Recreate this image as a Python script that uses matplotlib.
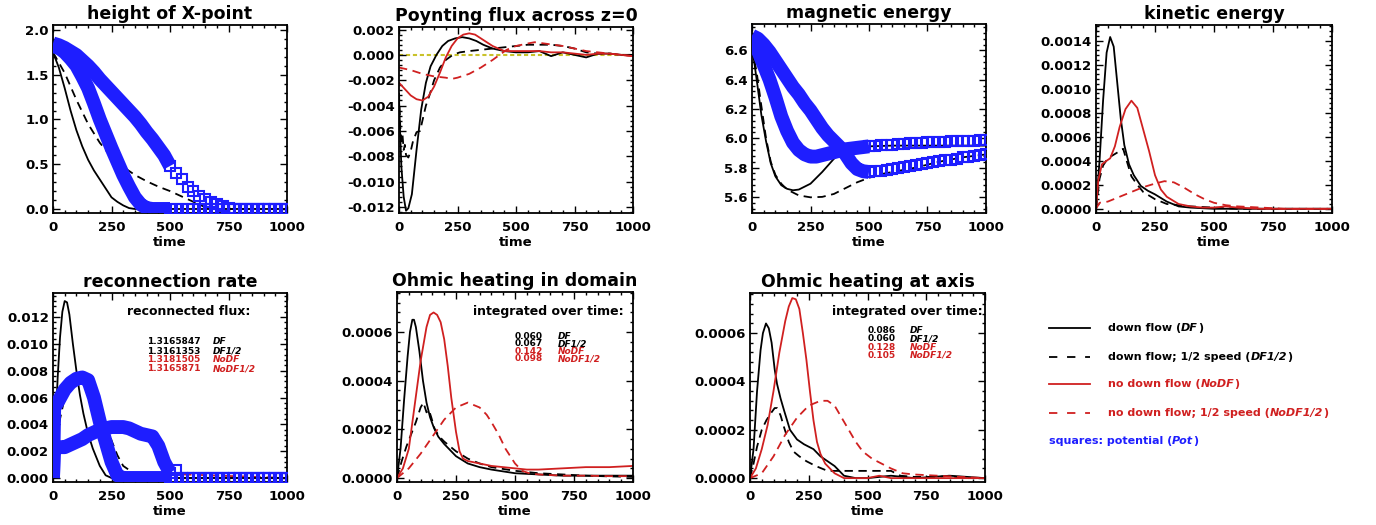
import numpy as np
import matplotlib
matplotlib.use("Agg")
import matplotlib.pyplot as plt
from matplotlib.lines import Line2D
from matplotlib.ticker import AutoMinorLocator, FormatStrFormatter
from matplotlib.offsetbox import TextArea, HPacker, AnchoredOffsetbox

plt.rcParams["font.family"] = ["DejaVu Sans"]
plt.rcParams["font.weight"] = "bold"
plt.rcParams["lines.scale_dashes"] = False

BLACK = "black"
RED = "#d02020"
BLUE = "#1e1eff"
DASH = (6, 4)

# sample times of the potential runs (squares)
T_POT = list(range(0, 1001, 25))
T_POT_RR = [0, 5] + list(range(25, 1001, 25))

# ---- height of X-point
XP_DF_T = [0, 25, 50, 75, 100, 125, 150, 175, 200, 250, 275, 300, 325, 350, 1000]
XP_DF = [1.75, 1.58, 1.35, 1.10, 0.88, 0.70, 0.55, 0.43, 0.33, 0.13, 0.08, 0.04, 0.01, 0.0, 0.0]
XP_DF2_T = [0, 50, 100, 150, 200, 250, 300, 350, 400, 450, 500, 550, 600, 650, 700, 1000]
XP_DF2 = [1.75, 1.52, 1.22, 0.95, 0.74, 0.58, 0.47, 0.38, 0.31, 0.25, 0.20, 0.14, 0.08, 0.02, 0.0, 0.0]
XP_POT = [1.82, 1.80, 1.75, 1.68, 1.60, 1.48, 1.35, 1.18, 1.00, 0.84, 0.68, 0.53, 0.38, 0.25,
          0.13, 0.05, 0.01, 0.0, 0.0, 0.0, 0.0, 0.0, 0.0, 0.0, 0.0, 0.0, 0.0, 0.0, 0.0, 0.0,
          0.0, 0.0, 0.0, 0.0, 0.0, 0.0, 0.0, 0.0, 0.0, 0.0, 0.0]
XP_POT2 = [1.85, 1.83, 1.80, 1.76, 1.72, 1.66, 1.60, 1.53, 1.45, 1.38, 1.31, 1.24, 1.17, 1.10,
           1.03, 0.95, 0.86, 0.78, 0.69, 0.60, 0.48, 0.40, 0.33, 0.25, 0.20, 0.15, 0.11, 0.08,
           0.05, 0.03, 0.015, 0.005, 0.0, 0.0, 0.0, 0.0, 0.0, 0.0, 0.0, 0.0, 0.0]

# ---- Poynting flux across z=0
PF_DF_T = [0, 5, 10, 20, 30, 40, 55, 75, 95, 115, 135, 160, 185, 210, 240, 270, 300, 330, 360,
           400, 450, 500, 550, 600, 650, 700, 750, 800, 850, 900, 950, 1000]
PF_DF = [-0.0034, -0.0062, -0.0088, -0.0112, -0.0123, -0.0121, -0.0110, -0.0075, -0.0043,
         -0.0022, -0.0009, 0.0000, 0.0007, 0.0011, 0.0013, 0.0014, 0.0013, 0.0011, 0.0008,
         0.0005, 0.0003, 0.0002, 0.0002, 0.0003, -0.0001, 0.0002, 0.0000, -0.0002, 0.0001,
         0.0001, 0.0000, 0.0000]
PF_DF2_T = [0, 5, 10, 15, 20, 25, 30, 40, 50, 60, 75, 90, 100, 115, 130, 150, 175, 200, 230,
            260, 300, 350, 400, 450, 500, 550, 600, 650, 700, 750, 800, 850, 900, 950, 1000]
PF_DF2 = [-0.0030, -0.0055, -0.0068, -0.0063, -0.0075, -0.0071, -0.0079, -0.0081, -0.0076,
          -0.0068, -0.0061, -0.0060, -0.0052, -0.0040, -0.0032, -0.0020, -0.0010, -0.0004,
          0.0000, 0.0002, 0.0003, 0.0004, 0.0005, 0.0006, 0.0007, 0.0008, 0.0008, 0.0008,
          0.0007, 0.0005, 0.0002, 0.0001, 0.0001, 0.0000, 0.0000]
PF_NODF_T = [0, 25, 50, 75, 100, 125, 150, 175, 200, 225, 250, 275, 300, 325, 350, 375, 400,
             425, 450, 500, 550, 600, 650, 700, 750, 800, 850, 900, 950, 1000]
PF_NODF = [-0.0022, -0.0027, -0.0032, -0.0035, -0.0036, -0.0033, -0.0025, -0.0014, -0.0002,
           0.0007, 0.0013, 0.0016, 0.0017, 0.0016, 0.0013, 0.0010, 0.0007, 0.0005, 0.0003,
           0.0003, 0.0003, 0.0003, 0.0002, 0.0002, 0.0001, 0.0000, 0.0001, 0.0001, 0.0000,
           -0.0001]
PF_NODF2_T = [0, 50, 100, 150, 200, 225, 250, 300, 350, 400, 430, 460, 500, 550, 580, 620,
              700, 750, 800, 850, 900, 950, 1000]
PF_NODF2 = [-0.0010, -0.0012, -0.0015, -0.0017, -0.0018, -0.0019, -0.0018, -0.0015, -0.0010,
            -0.0004, 0.0000, 0.0004, 0.0007, 0.0009, 0.0010, 0.0009, 0.0007, 0.0005, 0.0003,
            0.0002, 0.0001, 0.0000, -0.0001]

# ---- magnetic energy
ME_DF_T = [0, 20, 40, 60, 80, 100, 125, 150, 175, 200, 250, 300, 350, 400, 450, 500, 600,
           700, 800, 900, 1000]
ME_DF = [6.63, 6.40, 6.16, 5.98, 5.83, 5.74, 5.68, 5.655, 5.645, 5.65, 5.69, 5.77, 5.86,
         5.92, 5.94, 5.945, 5.95, 5.95, 5.95, 5.95, 5.95]
ME_DF2_T = [0, 20, 40, 60, 80, 100, 125, 150, 200, 250, 300, 350, 400, 450, 500, 550, 600,
            700, 800, 900, 1000]
ME_DF2 = [6.62, 6.45, 6.22, 6.00, 5.84, 5.75, 5.69, 5.65, 5.61, 5.597, 5.60, 5.62, 5.66,
          5.70, 5.73, 5.755, 5.77, 5.80, 5.84, 5.87, 5.89]
ME_POT = [6.68, 6.60, 6.50, 6.40, 6.28, 6.15, 6.05, 5.97, 5.92, 5.89, 5.875, 5.875, 5.885,
          5.895, 5.905, 5.915, 5.925, 5.93, 5.935, 5.94, 5.945, 5.95, 5.953, 5.955, 5.957,
          5.96, 5.962, 5.965, 5.967, 5.97, 5.972, 5.974, 5.976, 5.978, 5.98, 5.981, 5.982,
          5.983, 5.984, 5.985, 5.986]
ME_POT2 = [6.70, 6.68, 6.64, 6.59, 6.53, 6.47, 6.41, 6.35, 6.30, 6.24, 6.19, 6.13, 6.07,
           6.02, 5.98, 5.94, 5.89, 5.83, 5.79, 5.775, 5.77, 5.775, 5.78, 5.785, 5.79, 5.80,
           5.805, 5.81, 5.82, 5.825, 5.83, 5.84, 5.845, 5.85, 5.855, 5.86, 5.87, 5.875, 5.88,
           5.885, 5.89]

# ---- kinetic energy
KE_DF_T = [0, 15, 30, 45, 60, 75, 90, 105, 120, 140, 160, 190, 220, 250, 300, 350, 400, 500, 1000]
KE_DF = [0, 0.0004, 0.0009, 0.0013, 0.00143, 0.00135, 0.00105, 0.00075, 0.00053, 0.00037,
         0.00028, 0.00019, 0.00015, 0.00012, 0.00006, 0.00002, 0.00001, 0.0, 0.0]
KE_DF2_T = [0, 15, 30, 50, 75, 100, 115, 130, 150, 175, 200, 250, 300, 400, 500, 600, 1000]
KE_DF2 = [0, 0.00025, 0.00036, 0.00042, 0.00045, 0.00048, 0.0005, 0.0004, 0.00027, 0.0002,
          0.00014, 0.00008, 0.00004, 0.00002, 0.00001, 0.0, 0.0]
KE_NODF_T = [0, 10, 25, 45, 60, 80, 100, 125, 150, 175, 200, 225, 250, 275, 300, 350, 400,
             450, 500, 550, 600, 700, 1000]
KE_NODF = [0, 0.00024, 0.00037, 0.0004, 0.00042, 0.00052, 0.00068, 0.00083, 0.0009, 0.00084,
           0.00066, 0.00048, 0.00028, 0.00016, 0.0001, 0.00004, 0.00002, 0.00001, 0.00001,
           0.00002, 0.00001, 0.0, 0.0]
KE_NODF2_T = [0, 15, 50, 100, 150, 200, 250, 290, 330, 370, 420, 460, 500, 550, 600, 700, 800, 1000]
KE_NODF2 = [0, 0.00005, 0.00006, 0.0001, 0.00014, 0.00018, 0.00021, 0.00023, 0.00022,
            0.00018, 0.00012, 0.00008, 0.00005, 0.00003, 0.00002, 0.00001, 0.0, 0.0]

# ---- reconnection rate
RR_DF_T = [0, 10, 20, 30, 40, 50, 60, 70, 85, 100, 115, 130, 150, 170, 200, 225, 250, 1000]
RR_DF = [0, 0.0035, 0.0075, 0.0105, 0.0124, 0.0132, 0.0131, 0.0122, 0.0100, 0.0080, 0.0062,
         0.0048, 0.0033, 0.0022, 0.0009, 0.0002, 0.0, 0.0]
RR_DF2_T = [0, 25, 50, 75, 100, 125, 150, 175, 200, 225, 250, 275, 300, 350, 400, 1000]
RR_DF2 = [0, 0.0040, 0.0060, 0.0069, 0.0074, 0.0076, 0.0074, 0.0066, 0.0054, 0.0041, 0.0028,
          0.0017, 0.0009, 0.0003, 0.0, 0.0]
RR_NODF_T = [0, 5, 25, 50, 100, 130, 150, 200, 250, 300, 1000]
RR_NODF = [0, 0.0042, 0.0050, 0.0060, 0.0071, 0.0074, 0.0072, 0.0050, 0.0015, 0.0, 0.0]
RR_NODF2_T = [0, 5, 50, 100, 200, 300, 400, 450, 500, 1000]
RR_NODF2 = [0, 0.0015, 0.0021, 0.0026, 0.0035, 0.0037, 0.0031, 0.0025, 0.0003, 0.0]
RR_POT = [0.0, 0.0052, 0.0058, 0.0066, 0.0071, 0.0074, 0.0075, 0.0073, 0.0060, 0.0042, 0.0027,
          0.0012, 0.0002, 0.0, 0.0, 0.0, 0.0, 0.0, 0.0, 0.0, 0.0, 0.0, 0.0, 0.0, 0.0, 0.0,
          0.0, 0.0, 0.0, 0.0, 0.0, 0.0, 0.0, 0.0, 0.0, 0.0, 0.0, 0.0, 0.0, 0.0, 0.0, 0.0]
RR_POT2 = [0.0, 0.0023, 0.0023, 0.0023, 0.0025, 0.0027, 0.0029, 0.0032, 0.0034, 0.0036,
           0.0037, 0.0038, 0.0038, 0.0038, 0.0037, 0.0035, 0.0033, 0.0032, 0.0031, 0.0024,
           0.0012, 0.0004, 0.0006, 0.0, 0.0, 0.0, 0.0, 0.0, 0.0, 0.0, 0.0, 0.0, 0.0, 0.0,
           0.0, 0.0, 0.0, 0.0, 0.0, 0.0, 0.0, 0.0]
RR_FLUX = ["1.3165847", "1.3161353", "1.3181505", "1.3165871"]

# ---- Ohmic heating in domain
OD_DF_T = [0, 15, 30, 45, 55, 65, 72, 80, 95, 110, 125, 140, 155, 175, 200, 250, 300, 350,
           400, 500, 600, 700, 800, 900, 1000]
OD_DF = [0, 0.00012, 0.00032, 0.0005, 0.0006, 0.00065, 0.00065, 0.00062, 0.00052, 0.0004,
         0.00031, 0.00025, 0.00021, 0.00017, 0.00014, 0.00009, 0.00006, 0.000045, 0.000035,
         0.00002, 0.000015, 0.00001, 0.00001, 0.00001, 0.00001]
OD_DF2_T = [0, 20, 40, 60, 80, 100, 112, 125, 135, 145, 160, 180, 200, 250, 300, 350, 400,
            500, 600, 700, 800, 900, 1000]
OD_DF2 = [0, 0.00007, 0.00013, 0.00018, 0.00023, 0.00029, 0.00031, 0.00027, 0.00028, 0.00025,
          0.0002, 0.00017, 0.00015, 0.00011, 0.00008, 0.00006, 0.000045, 0.00003, 0.00002,
          0.000015, 0.00001, 0.000007, 0.000005]
OD_NODF_T = [0, 25, 50, 75, 100, 125, 140, 155, 170, 185, 200, 215, 230, 250, 265, 280, 300,
             350, 400, 450, 500, 550, 600, 700, 800, 900, 1000]
OD_NODF = [0, 0.00004, 0.00012, 0.0003, 0.00048, 0.00062, 0.00067, 0.00068, 0.00067, 0.00064,
           0.00057, 0.00046, 0.00033, 0.00019, 0.00011, 0.00008, 0.00007, 0.00006, 0.00005,
           0.000045, 0.00004, 0.000035, 0.000035, 0.00004, 0.000045, 0.000045, 0.00005]
OD_NODF2_T = [0, 50, 100, 150, 200, 250, 300, 350, 380, 400, 430, 460, 500, 530, 560, 600,
              700, 800, 900, 1000]
OD_NODF2 = [0, 0.00004, 0.0001, 0.00017, 0.00024, 0.00029, 0.00031, 0.00029, 0.00026,
            0.00023, 0.00018, 0.00012, 0.00006, 0.00003, 0.00002, 0.000015, 0.00001, 0.00001,
            0.000008, 0.000008]
OD_INT = ["0.060", "0.067", "0.142", "0.098"]

# ---- Ohmic heating at axis
OA_DF_T = [0, 15, 30, 45, 55, 68, 80, 92, 105, 115, 130, 145, 170, 200, 230, 270, 300, 330,
           360, 400, 450, 500, 600, 700, 850, 1000]
OA_DF = [0, 0.00012, 0.00036, 0.00053, 0.0006, 0.00064, 0.00062, 0.00056, 0.00045, 0.00039,
         0.00033, 0.00028, 0.0002, 0.00016, 0.00014, 0.00012, 0.00009, 0.00007, 0.00005,
         0.00001, 0.0, 0.0, 0.00001, 0.0, 0.00001, 0.0]
OA_DF2_T = [0, 15, 30, 50, 70, 90, 105, 115, 130, 145, 165, 185, 210, 240, 280, 330, 400,
            450, 500, 550, 600, 640, 700, 800, 850, 900, 1000]
OA_DF2 = [0, 0.00006, 0.00013, 0.0002, 0.00024, 0.00027, 0.00029, 0.00029, 0.00026, 0.00021,
          0.00015, 0.00011, 0.00009, 0.00007, 0.00005, 0.00003, 0.00003, 0.00003, 0.00003,
          0.00003, 0.00003, 0.00001, 0.000005, 0.000005, 0.00001, 0.0, 0.0]
OA_NODF_T = [0, 25, 50, 75, 100, 125, 150, 165, 180, 195, 210, 225, 240, 255, 270, 285, 300,
             320, 340, 360, 380, 400, 500, 550, 600, 700, 1000]
OA_NODF = [0, 0.00004, 0.00012, 0.00022, 0.00036, 0.00052, 0.00065, 0.00071, 0.000745,
           0.00074, 0.0007, 0.0006, 0.00049, 0.00036, 0.00024, 0.00015, 0.0001, 0.00006,
           0.00004, 0.00002, 0.00001, 0.0, 0.0, 0.00001, 0.0, 0.0, 0.0]
OA_NODF2_T = [0, 50, 100, 150, 200, 250, 300, 330, 360, 390, 420, 450, 480, 520, 560, 600,
              650, 700, 800, 900, 1000]
OA_NODF2 = [0, 0.00002, 0.00009, 0.00018, 0.00025, 0.0003, 0.00032, 0.00032, 0.0003, 0.00025,
            0.0002, 0.00015, 0.00011, 0.00008, 0.00006, 0.00004, 0.00002, 0.000015, 0.00001,
            0.000005, 0.0]
OA_INT = ["0.086", "0.060", "0.128", "0.105"]

RUN_NAMES = ["DF", "DF1/2", "NoDF", "NoDF1/2"]
RUN_COLORS = [BLACK, BLACK, RED, RED]
XTICKS = [0, 250, 500, 750, 1000]

W, H = 1376, 525
fig = plt.figure(figsize=(W / 100, H / 100), dpi=100)


def box(l, t, r, b):
    return [l / W, 1 - b / H, (r - l) / W, (b - t) / H]


def setup(ax, title, ylim, yticks, fmt):
    ax.set_xlim(0, 1000)
    ax.set_ylim(*ylim)
    ax.set_xticks(XTICKS)
    ax.set_yticks(yticks)
    ax.yaxis.set_major_formatter(FormatStrFormatter(fmt))
    ax.xaxis.set_minor_locator(AutoMinorLocator(5))
    ax.yaxis.set_minor_locator(AutoMinorLocator(5))
    ax.tick_params(which="both", direction="in", top=True, right=True, width=1, labelsize=9.5)
    ax.tick_params(which="major", length=5)
    ax.tick_params(which="minor", length=2.5)
    ax.tick_params(axis="x", pad=6)
    ax.tick_params(axis="y", pad=3)
    ax.set_title(title, fontsize=12.5, fontweight="bold", pad=4)
    ax.set_xlabel("time", fontsize=9.5, fontweight="bold", labelpad=1)
    for s in ax.spines.values():
        s.set_linewidth(1.3)


def line(ax, t, y, color, dashed=False):
    if dashed:
        ax.plot(t, y, color=color, lw=1.3, dashes=DASH, zorder=2)
    else:
        ax.plot(t, y, color=color, lw=1.3, zorder=2)


def pot(ax, t, y):
    # dense output before t=500 merges into a band, sparse squares after
    t = np.asarray(t)
    y = np.asarray(y)
    dense = t <= 500
    ax.plot(t[dense], y[dense], color=BLUE, lw=10, solid_joinstyle="round",
            solid_capstyle="butt", zorder=3)
    ax.plot(t[t >= 500], y[t >= 500], ls="none", marker="s", ms=7.5, mfc="none",
            mec=BLUE, mew=1.5, zorder=3)


def run_table(ax, head, values, xhead, xnum, xlab, yhead, ys):
    ax.text(xhead, yhead, head, transform=ax.transAxes, ha="right", va="center",
            fontsize=9, fontweight="bold")
    for v, name, c, yy in zip(values, RUN_NAMES, RUN_COLORS, ys):
        ax.text(xnum, yy, v, transform=ax.transAxes, ha="left", va="center",
                fontsize=6.5, fontweight="bold", color=c)
        ax.text(xlab, yy, name, transform=ax.transAxes, ha="left", va="center",
                fontsize=6.5, fontweight="bold", fontstyle="italic", color=c)


# height of X-point
ax = fig.add_axes(box(53, 25, 287, 213))
setup(ax, "height of X-point", (-0.045, 2.056), [0.0, 0.5, 1.0, 1.5, 2.0], "%.1f")
line(ax, XP_DF_T, XP_DF, BLACK)
line(ax, XP_DF2_T, XP_DF2, BLACK, True)
pot(ax, T_POT, XP_POT)
pot(ax, T_POT, XP_POT2)

# Poynting flux
ax = fig.add_axes(box(399, 27, 633, 213))
setup(ax, "Poynting flux across z=0", (-0.01248, 0.0022),
      [-0.012, -0.010, -0.008, -0.006, -0.004, -0.002, 0.0, 0.002], "%.3f")
ax.axhline(0, color="#c9c22a", lw=1.5, dashes=(3, 2), zorder=1)
line(ax, PF_DF_T, PF_DF, BLACK)
line(ax, PF_DF2_T, PF_DF2, BLACK, True)
line(ax, PF_NODF_T, PF_NODF, RED)
line(ax, PF_NODF2_T, PF_NODF2, RED, True)

# magnetic energy
ax = fig.add_axes(box(752, 24, 986, 213))
setup(ax, "magnetic energy", (5.49, 6.78), [5.6, 5.8, 6.0, 6.2, 6.4, 6.6], "%.1f")
line(ax, ME_DF_T, ME_DF, BLACK)
line(ax, ME_DF2_T, ME_DF2, BLACK, True)
pot(ax, T_POT, ME_POT)
pot(ax, T_POT, ME_POT2)

# kinetic energy
ax = fig.add_axes(box(1096, 25, 1332, 213))
setup(ax, "kinetic energy", (-0.000035, 0.00153),
      [0.0, 0.0002, 0.0004, 0.0006, 0.0008, 0.0010, 0.0012, 0.0014], "%.4f")
line(ax, KE_DF_T, KE_DF, BLACK)
line(ax, KE_DF2_T, KE_DF2, BLACK, True)
line(ax, KE_NODF_T, KE_NODF, RED)
line(ax, KE_NODF2_T, KE_NODF2, RED, True)

# reconnection rate
ax = fig.add_axes(box(53, 293, 287, 482))
setup(ax, "reconnection rate", (-0.0003, 0.0138),
      [0.0, 0.002, 0.004, 0.006, 0.008, 0.010, 0.012], "%.3f")
line(ax, RR_NODF_T, RR_NODF, RED)
line(ax, RR_NODF2_T, RR_NODF2, RED, True)
line(ax, RR_DF_T, RR_DF, BLACK)
line(ax, RR_DF2_T, RR_DF2, BLACK, True)
pot(ax, T_POT_RR, RR_POT)
pot(ax, T_POT_RR, RR_POT2)
run_table(ax, "reconnected flux:", RR_FLUX, 0.845, 0.40, 0.684, 0.90,
          [0.741, 0.693, 0.646, 0.598])

# Ohmic heating in domain
ax = fig.add_axes(box(397, 292, 633, 482))
setup(ax, "Ohmic heating in domain", (-0.000016, 0.000764),
      [0.0, 0.0002, 0.0004, 0.0006], "%.4f")
line(ax, OD_DF_T, OD_DF, BLACK)
line(ax, OD_DF2_T, OD_DF2, BLACK, True)
line(ax, OD_NODF_T, OD_NODF, RED)
line(ax, OD_NODF2_T, OD_NODF2, RED, True)
run_table(ax, "integrated over time:", OD_INT, 0.96, 0.50, 0.682, 0.895,
          [0.768, 0.728, 0.688, 0.648])

# Ohmic heating at axis
ax = fig.add_axes(box(750, 293, 985, 482))
setup(ax, "Ohmic heating at axis", (-0.000016, 0.000766),
      [0.0, 0.0002, 0.0004, 0.0006], "%.4f")
line(ax, OA_DF_T, OA_DF, BLACK)
line(ax, OA_DF2_T, OA_DF2, BLACK, True)
line(ax, OA_NODF_T, OA_NODF, RED)
line(ax, OA_NODF2_T, OA_NODF2, RED, True)
run_table(ax, "integrated over time:", OA_INT, 0.99, 0.50, 0.68, 0.9,
          [0.80, 0.757, 0.714, 0.671])

# legend
LEG_TEXT = [("down flow (", "DF", ")"),
            ("down flow; 1/2 speed (", "DF1/2", ")"),
            ("no down flow (", "NoDF", ")"),
            ("no down flow; 1/2 speed (", "NoDF1/2", ")")]
LEG_DASHED = [False, True, False, True]
LEG_Y = [328, 357, 384, 413]


def rich(x, y, parts, color, size=8):
    kids = [TextArea(s, textprops=dict(color=color, fontsize=size, fontweight="bold",
                                       fontstyle="italic" if it else "normal"))
            for s, it in parts]
    pack = HPacker(children=kids, align="baseline", pad=0, sep=0)
    ab = AnchoredOffsetbox(loc="center left", child=pack, pad=0, borderpad=0, frameon=False,
                           bbox_to_anchor=(x / W, 1 - y / H), bbox_transform=fig.transFigure)
    fig.add_artist(ab)


for (a, b, c), dashed, col, yy in zip(LEG_TEXT, LEG_DASHED, RUN_COLORS, LEG_Y):
    ln = Line2D([1049 / W, 1090 / W], [1 - yy / H, 1 - yy / H], transform=fig.transFigure,
                color=col, lw=1.3)
    if dashed:
        ln.set_dashes((6, 7))
    fig.add_artist(ln)
    rich(1108, yy, [(a, False), (b, True), (c, False)], col)
rich(1049, 441, [("squares: potential (", False), ("Pot", True), (")", False)], BLUE)

fig.savefig("out.png", dpi=100)
